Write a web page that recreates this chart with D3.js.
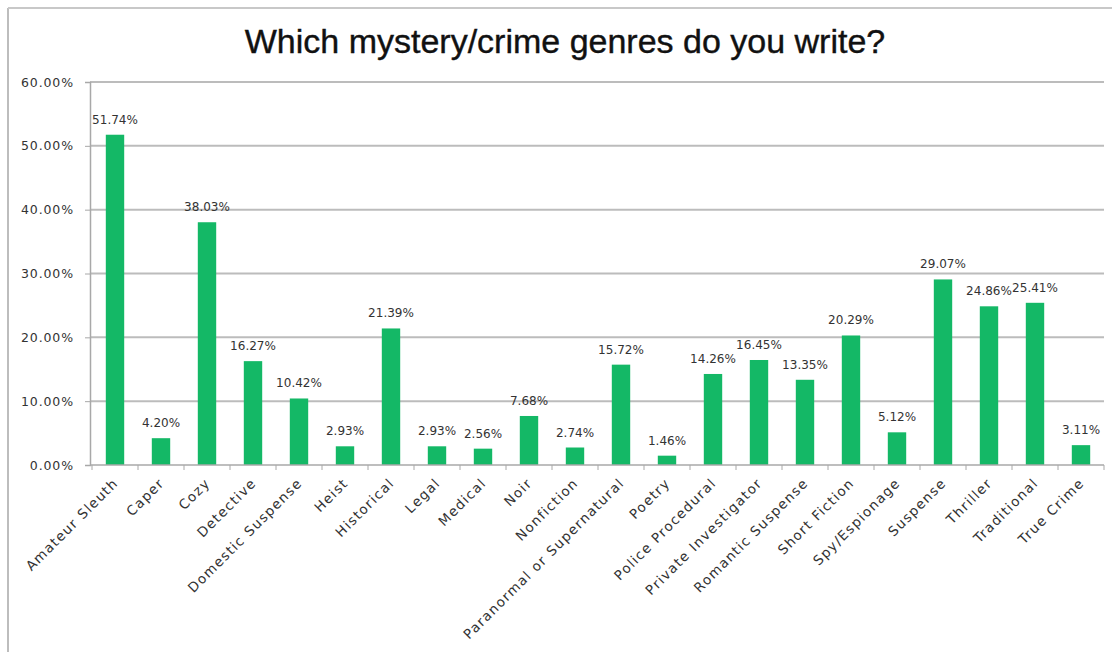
<!DOCTYPE html>
<html>
<head>
<meta charset="utf-8">
<script src="https://cdn.jsdelivr.net/npm/d3@7/dist/d3.min.js"></script>
<style>
  html, body { margin: 0; padding: 0; background: #fff; }
  svg { display: block; }
</style>
</head>
<body>
<svg id="chart" width="1112" height="652"></svg>
<script>
const title = "Which mystery/crime genres do you write?";
const categories = ["Amateur Sleuth", "Caper", "Cozy", "Detective", "Domestic Suspense", "Heist",
  "Historical", "Legal", "Medical", "Noir", "Nonfiction", "Paranormal or Supernatural", "Poetry",
  "Police Procedural", "Private Investigator", "Romantic Suspense", "Short Fiction", "Spy/Espionage",
  "Suspense", "Thriller", "Traditional", "True Crime"];
const values = [51.74, 4.20, 38.03, 16.27, 10.42, 2.93, 21.39, 2.93, 2.56, 7.68, 2.74, 15.72, 1.46,
  14.26, 16.45, 13.35, 20.29, 5.12, 29.07, 24.86, 25.41, 3.11];
const yTicks = [0, 10, 20, 30, 40, 50, 60];

const svg = d3.select("#chart");
const W = 1112, H = 652;
const plot = { left: 92, right: 1104, top: 82, bottom: 465 };

// frame
svg.append("line").attr("x1", 8).attr("x2", 8).attr("y1", 8).attr("y2", H)
  .attr("stroke", "#bdbdbd").attr("stroke-width", 2);
svg.append("line").attr("x1", 8).attr("x2", W).attr("y1", 8).attr("y2", 8)
  .attr("stroke", "#c8c8c8").attr("stroke-width", 2);

// title
svg.append("text").attr("x", 565).attr("y", 53).attr("text-anchor", "middle")
  .attr("font-family", "Liberation Sans, Arial, sans-serif").attr("font-size", 34)
  .attr("fill", "#111").attr("stroke", "#111").attr("stroke-width", 0.4).text(title);

const x = d3.scaleBand().domain(categories).range([plot.left, plot.right]).paddingInner(0.6).paddingOuter(0.3);
const y = d3.scaleLinear().domain([0, 60]).range([plot.bottom, plot.top]);

// gridlines
svg.append("g").selectAll("line").data(yTicks.filter(d => d > 0)).join("line")
  .attr("x1", plot.left - 2).attr("x2", plot.right).attr("y1", d => y(d)).attr("y2", d => y(d))
  .attr("stroke", "#bcbcbc").attr("stroke-width", 2);

// y axis
const yAxis = svg.append("g").attr("transform", `translate(${plot.left - 2},0)`)
  .call(d3.axisLeft(y).tickValues(yTicks).tickSize(5).tickPadding(11)
    .tickFormat(d => d.toFixed(2) + "%"));
yAxis.select(".domain").attr("stroke", "#a8a8a8").attr("stroke-width", 1.5);
yAxis.selectAll(".tick line").attr("stroke", "#a8a8a8");
yAxis.selectAll(".tick text").attr("font-family", "DejaVu Sans, sans-serif").attr("font-size", 12.5)
  .attr("letter-spacing", "0.9px").attr("fill", "#333");

// bars
svg.append("g").selectAll("rect").data(values).join("rect")
  .attr("x", (d, i) => x(categories[i])).attr("width", x.bandwidth())
  .attr("y", d => y(d)).attr("height", d => y(0) - y(d))
  .attr("fill", "#14b866");

// x axis
const step = x.step();
const xAxis = svg.append("g").attr("transform", `translate(0,${plot.bottom})`);
xAxis.append("line").attr("x1", plot.left - 2).attr("x2", plot.right).attr("y1", 0).attr("y2", 0)
  .attr("stroke", "#a8a8a8").attr("stroke-width", 1.5);
const bounds = d3.range(categories.length + 1).map(i => x(categories[0]) - (step - x.bandwidth()) / 2 + i * step);
xAxis.selectAll("line.tk").data(bounds).join("line").attr("class", "tk")
  .attr("x1", d => d).attr("x2", d => d).attr("y1", 0).attr("y2", 5)
  .attr("stroke", "#a8a8a8");
xAxis.selectAll("text").data(categories).join("text")
  .attr("transform", d => `translate(${x(d) + x.bandwidth() / 2 + 4},${19}) rotate(-45)`)
  .attr("text-anchor", "end")
  .attr("font-family", "DejaVu Sans, sans-serif").attr("font-size", 13.5)
  .attr("letter-spacing", "1.3px").attr("fill", "#333")
  .text(d => d);

// data labels
svg.append("g").selectAll("text").data(values).join("text")
  .attr("x", (d, i) => x(categories[i]) + x.bandwidth() / 2)
  .attr("y", d => y(d) - 11)
  .attr("text-anchor", "middle")
  .attr("font-family", "DejaVu Sans, sans-serif").attr("font-size", 12)
  .attr("letter-spacing", "0px").attr("fill", "#333")
  .text(d => d.toFixed(2) + "%");
</script>
</body>
</html>
